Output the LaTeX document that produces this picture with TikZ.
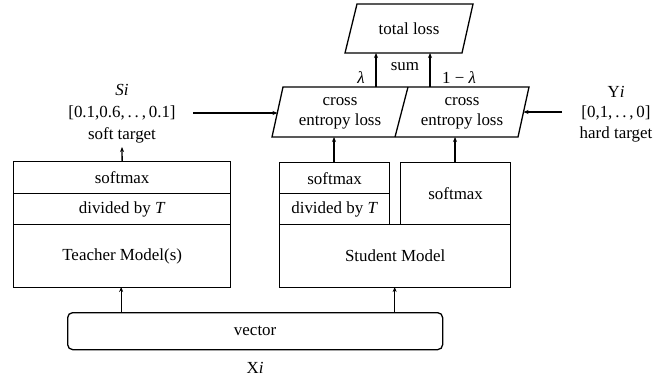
\documentclass[tikz,border=0pt]{standalone}
\usepackage{fontspec}
\setmainfont{Liberation Serif}
\usetikzlibrary{arrows.meta}
\begin{document}
\begin{tikzpicture}[x=1bp,y=-1bp,
  every node/.style={font=\fontsize{17}{20}\selectfont, inner sep=0pt},
  box/.style={draw, line width=1.3bp, anchor=north west},
  lbl/.style={align=center},
  arr/.style={line width=1.3bp, -{Stealth[length=5bp,width=4bp]}},
  edge/.style={line width=1.3bp, line join=miter}]
\useasboundingbox (0,0) rectangle (670,379);

% teacher stack
\node[box, minimum width=217bp, minimum height=32bp] (tsm) at (13,161) {softmax};
\node[box, minimum width=217bp, minimum height=31bp] (tdiv) at (13,193) {divided by \textit{T}};
\node[box, minimum width=217bp, minimum height=63bp] (tmod) at (13,224) {Teacher Model(s)};

% student stack
\node[box, minimum width=110bp, minimum height=31bp] (ssm) at (279,162) {softmax};
\node[box, minimum width=110bp, minimum height=31bp] (sdiv) at (279,193) {divided by \textit{T}};
\node[box, minimum width=110bp, minimum height=62bp] (ssm2) at (400,162) {softmax};
\node[box, minimum width=231bp, minimum height=63bp] (smod) at (279,224) {Student Model};

% input vector
\node[box, rounded corners=5bp, minimum width=375bp, minimum height=37bp] (vec) at (67,312) {vector};
\node (xi) at (255,368) {X\textit{i}};

% soft target labels
\node (si) at (122,90) {\textit{Si}};
\node (sivec) at (122,113) {[0.1,0.6,\,.\,.\,,\,0.1]};
\node (soft) at (122,135) {soft target};
\coordinate (sfrom) at (193,113);

% hard target labels
\node (yi) at (616,92) {Y\textit{i}};
\node (yivec) at (616,113) {[0,1,\,.\,.\,,\,0]};
\node (hard) at (616,134) {hard target};
\coordinate (hfrom) at (562,112);

% cross entropy parallelograms
\coordinate (c1) at (283,87);
\coordinate (c2) at (408,87);
\coordinate (c3) at (529,87);
\coordinate (c4) at (518,137);
\coordinate (c5) at (395,137);
\coordinate (c6) at (272,137);
\draw[edge] (c1) -- (c3) -- (c4) -- (c6) -- cycle;
\draw[edge] (c2) -- (c5);
\node[lbl] (ceL) at (340,113) {cross\\entropy loss};
\node[lbl] (ceR) at (462,113) {cross\\entropy loss};
\coordinate (ceLin) at (277.5,113);
\coordinate (ceRin) at (523.5,112);
\coordinate (ceLout) at (376,87);
\coordinate (ceRout) at (430,87);
\coordinate (ceLbot) at (334,137);
\coordinate (ceRbot) at (455,137);

% total loss parallelogram
\coordinate (t1) at (357,4);
\coordinate (t2) at (473,4);
\coordinate (t3) at (462,53);
\coordinate (t4) at (345,53);
\draw[edge] (t1) -- (t2) -- (t3) -- (t4) -- cycle;
\node (total) at (409,29) {total loss};
\coordinate (tinL) at (376,53);
\coordinate (tinR) at (430,53);

% weights and sum
\node (lam) at (361,78) {\textit{λ}};
\node (sum) at (405,67) {sum};
\node (oml) at (459,78) {1 − \textit{λ}};

% connectors
\draw[arr] (ceLout) -- (tinL);
\draw[arr] (ceRout) -- (tinR);
\draw[arr] (tsm.north) -- (122,147);
\draw[arr] (sfrom) -- (ceLin);
\draw[arr] (hfrom) -- (ceRin);
\draw[arr] (ssm.north -| ceLbot) -- (ceLbot);
\draw[arr] (ssm2.north -| ceRbot) -- (ceRbot);
\draw[arr] (vec.north -| tmod.south) ++(-1,0) -- ++(0,-25);
\draw[arr] (vec.north -| smod.south) ++(-0.5,0) -- ++(0,-25);
\end{tikzpicture}
\end{document}
